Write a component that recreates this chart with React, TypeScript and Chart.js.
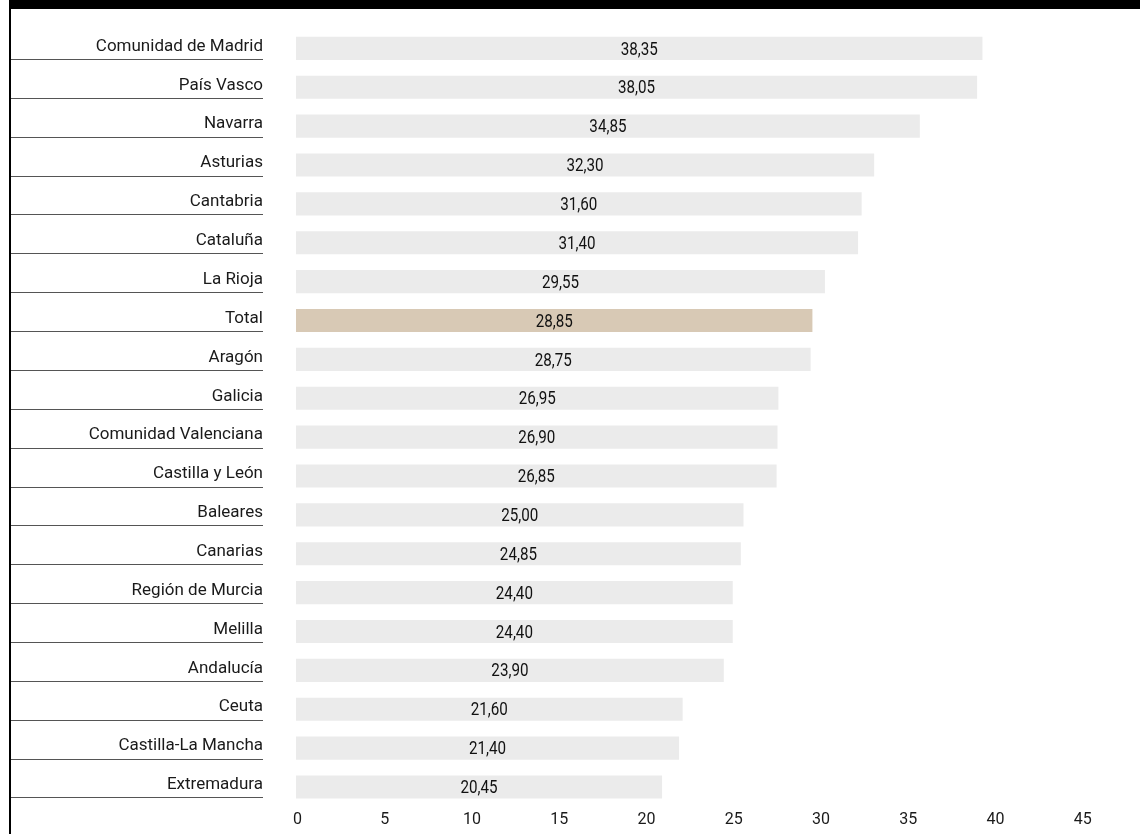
import React, { useEffect, useRef } from "react";
import { Chart, registerables } from "chart.js";

Chart.register(...registerables);

const CATEGORIES: string[] = [
  "Comunidad de Madrid",
  "País Vasco",
  "Navarra",
  "Asturias",
  "Cantabria",
  "Cataluña",
  "La Rioja",
  "Total",
  "Aragón",
  "Galicia",
  "Comunidad Valenciana",
  "Castilla y León",
  "Baleares",
  "Canarias",
  "Región de Murcia",
  "Melilla",
  "Andalucía",
  "Ceuta",
  "Castilla-La Mancha",
  "Extremadura",
];

const VALUES: number[] = [
  38.35, 38.05, 34.85, 32.3, 31.6, 31.4, 29.55, 28.85, 28.75, 26.95, 26.9,
  26.85, 25.0, 24.85, 24.4, 24.4, 23.9, 21.6, 21.4, 20.45,
];

const TICKS: number[] = [0, 5, 10, 15, 20, 25, 30, 35, 40, 45];

const HIGHLIGHT = "Total";
const BAR_COLOR = "#ebebeb";
const HIGHLIGHT_COLOR = "#d8c9b5";

const fmt = (v: number) => v.toFixed(2).replace(".", ",");

const rowDecor = {
  id: "rowDecor",
  afterDatasetsDraw(chart: any) {
    const ctx = chart.ctx as CanvasRenderingContext2D;
    const meta = chart.getDatasetMeta(0);
    const yScale = chart.scales.y;
    // value labels (condensed look via horizontal scaling)
    const sx = 0.82;
    meta.data.forEach((bar: any, i: number) => {
      const { x, y, base } = bar.getProps(["x", "y", "base"], true);
      const cx = (x + base) / 2;
      ctx.save();
      ctx.translate(cx, y + 1.5);
      ctx.scale(sx, 1);
      ctx.font = '400 18.5px Roboto, "Noto Sans", sans-serif';
      ctx.fillStyle = "#111";
      ctx.textAlign = "center";
      ctx.textBaseline = "middle";
      ctx.fillText(fmt(VALUES[i]), 0, 0);
      ctx.restore();
    });
    // category labels + underlines
    ctx.save();
    ctx.font = '17px Roboto, "Noto Sans", sans-serif';
    ctx.textAlign = "right";
    ctx.textBaseline = "middle";
    ctx.fillStyle = "#1a1a1a";
    ctx.strokeStyle = "#555";
    ctx.lineWidth = 1;
    CATEGORIES.forEach((c, i) => {
      const cy = yScale.getPixelForValue(i);
      ctx.fillText(c, 263, cy - 2);
      const ly = Math.round(cy + 10.5) + 0.5;
      ctx.beginPath();
      ctx.moveTo(11, ly);
      ctx.lineTo(263, ly);
      ctx.stroke();
    });
    ctx.restore();
  },
};

export default function App() {
  const ref = useRef<HTMLCanvasElement | null>(null);
  useEffect(() => {
    if (!ref.current) return;
    const chart = new Chart(ref.current, {
      type: "bar",
      data: {
        labels: CATEGORIES,
        datasets: [
          {
            data: VALUES,
            backgroundColor: CATEGORIES.map((c) =>
              c === HIGHLIGHT ? HIGHLIGHT_COLOR : BAR_COLOR
            ),
            borderWidth: 0,
            barPercentage: 0.595,
            categoryPercentage: 1,
            xAxisID: "x",
            yAxisID: "y",
          },
        ],
      },
      options: {
        indexAxis: "y",
        animation: false,
        responsive: false,
        maintainAspectRatio: false,
        devicePixelRatio: 1,
        layout: { padding: { left: 296, right: 40, top: 29, bottom: 0.4 } },
        plugins: {
          legend: { display: false },
          tooltip: { enabled: false },
          title: { display: false },
        },
        scales: {
          x: {
            type: "linear",
            display: false,
            min: 0,
            max: 44.916,
          },
          x2: {
            type: "linear",
            position: "bottom",
            min: -0.086,
            max: 45.988,
            grid: { display: false, drawTicks: false },
            border: { display: false },
            afterBuildTicks: (scale: any) => {
              scale.ticks = TICKS.map((v) => ({ value: v }));
            },
            ticks: {
              padding: 4,
              color: "#1a1a1a",
              font: { family: 'Roboto, "Noto Sans", sans-serif', size: 16 },
              maxRotation: 0,
              autoSkip: false,
            },
          },
          y: {
            display: false,
            offset: true,
          },
        },
      },
      plugins: [rowDecor],
    });
    return () => chart.destroy();
  }, []);

  return (
    <div
      style={{
        position: "fixed",
        left: 0,
        top: 0,
        width: 1140,
        height: 834,
        background: "#fff",
        overflow: "hidden",
      }}
    >
      <canvas
        ref={ref}
        width={1140}
        height={834}
        style={{ position: "absolute", left: 0, top: 0, width: 1140, height: 834 }}
      />
      <div
        style={{
          position: "absolute",
          left: 9,
          top: 0,
          width: 1131,
          height: 9,
          background: "#000",
        }}
      />
      <div
        style={{
          position: "absolute",
          left: 9,
          top: 0,
          width: 2,
          height: 834,
          background: "#000",
        }}
      />
    </div>
  );
}
